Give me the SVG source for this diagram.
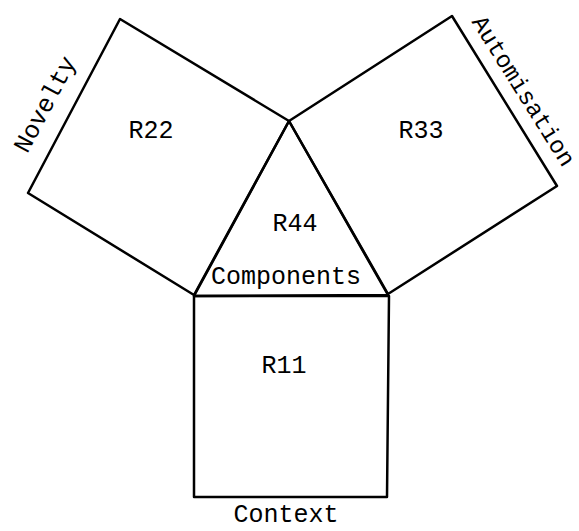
<svg xmlns="http://www.w3.org/2000/svg" width="579" height="531" viewBox="0 0 579 531">
<style>
.s{fill:none;stroke:#000;stroke-width:2.5;stroke-linejoin:round}
.t{font-family:"Liberation Mono","Courier New",monospace;font-size:25px;fill:#000;text-anchor:middle}
</style>
<rect width="579" height="531" fill="#fff"/>
<g id="R22">
<polygon class="s" points="120,19 289,121 194,295 28,193"/>
<text class="t" x="151" y="138">R22</text>
<text class="t" transform="translate(52,108) rotate(-62)">Novelty</text>
</g>
<g id="R33">
<polygon class="s" points="289,121 452,16 557,186 388,294"/>
<text class="t" x="421" y="138">R33</text>
<text class="t" transform="translate(517,95) rotate(58)" style="font-size:24px">Automisation</text>
</g>
<g id="R44">
<polygon class="s" points="289,121 388,295 194,296"/>
<text class="t" x="295" y="231">R44</text>
<text class="t" x="286" y="284">Components</text>
</g>
<g id="R11">
<polygon class="s" points="194,296 389,296 387,497 194,497"/>
<text class="t" x="284" y="373">R11</text>
<text class="t" x="286" y="522">Context</text>
</g>
<g id="connectors"></g>
</svg>
